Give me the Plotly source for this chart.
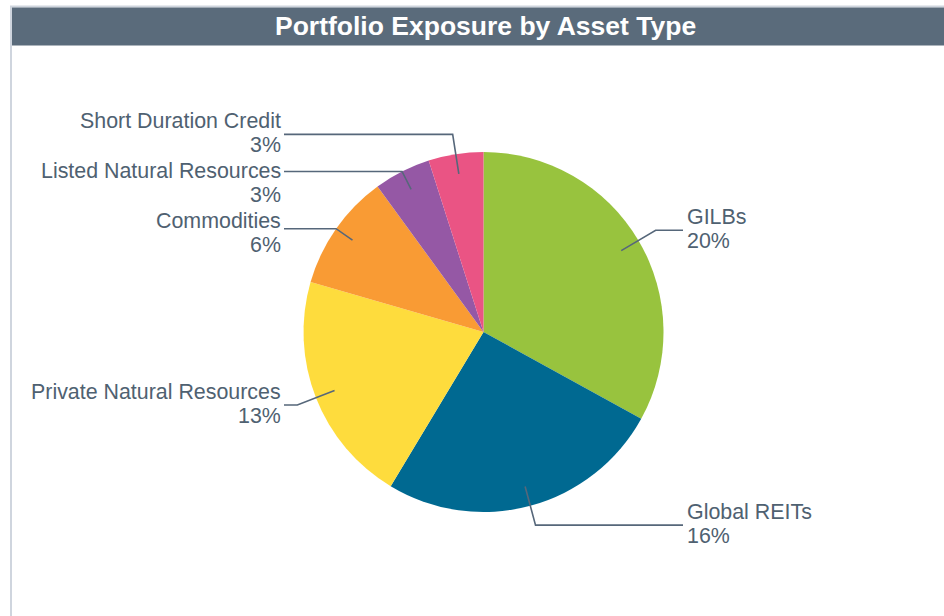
import math
import plotly.graph_objects as go

# ---- data ----
categories = ["GILBs", "Global REITs", "Private Natural Resources",
              "Commodities", "Listed Natural Resources", "Short Duration Credit"]
values = [20.1, 15.6, 12.7, 6.4, 3.1, 3.0]
colors = ["#98c33e", "#006991", "#fedc3d", "#f99b34", "#9558a5", "#ea5484"]
title_text = "Portfolio Exposure by Asset Type"

# ---- layout constants (pixels) ----
W, H = 944, 616
CX, CY, R = 483.5, 332.0, 180.0
R_IN, R_MIN_ELBOW, R_LABEL = 160.0, 180.0, 200.0
LEFT_TEXT_X, LEFT_LINE_X = 283, 284
RIGHT_TEXT_X, RIGHT_LINE_X = 685, 683
LABEL_GAP = 50
TEXT_COLOR = "#4f6171"
LINE_COLOR = "#56677a"
FONT = "Liberation Sans, Arial, sans-serif"


def px(x):
    return x / W


def py(y):
    return 1 - y / H


fig = go.Figure(go.Pie(
    labels=categories,
    values=values,
    sort=False,
    direction="clockwise",
    rotation=0,
    marker=dict(colors=colors, line=dict(width=0)),
    textinfo="none",
    hoverinfo="label+percent",
    showlegend=False,
    domain=dict(x=[px(CX - R), px(CX + R)], y=[py(CY + R), py(CY - R)]),
))

# ---- label positions derived from the slice angles ----
total = sum(values)
mids = []
cum = 0.0
for v in values:
    mids.append((cum + v / 2) / total * 2 * math.pi)
    cum += v

items = []
for name, v, th in zip(categories, values, mids):
    side = "right" if math.sin(th) >= 0 else "left"
    items.append(dict(name=name, v=v, th=th, side=side,
                      ly=CY - R_LABEL * math.cos(th)))

for side in ("left", "right"):
    group = sorted([it for it in items if it["side"] == side], key=lambda d: d["ly"])
    for i in range(1, len(group)):
        if group[i]["ly"] < group[i - 1]["ly"] + LABEL_GAP:
            group[i]["ly"] = group[i - 1]["ly"] + LABEL_GAP

shapes = []
annotations = []
for it in items:
    th, ly = it["th"], it["ly"]
    s, c = math.sin(th), math.cos(th)
    x0, y0 = CX + R_IN * s, CY - R_IN * c
    r_e = (CY - ly) / c if abs(c) > 1e-6 else R_LABEL
    r_e = min(max(r_e, R_MIN_ELBOW), R_LABEL)
    xe, ye = CX + r_e * s, CY - r_e * c
    xl = RIGHT_LINE_X if it["side"] == "right" else LEFT_LINE_X
    shapes.append(dict(
        type="path", xref="paper", yref="paper",
        path=f"M {px(x0)} {py(y0)} L {px(xe)} {py(ye)} L {px(xl)} {py(ye)}",
        line=dict(color=LINE_COLOR, width=1.6), layer="above"))
    tx = RIGHT_TEXT_X if it["side"] == "right" else LEFT_TEXT_X
    anchor = "left" if it["side"] == "right" else "right"
    yc = ly - 1
    for txt, dy in ((it["name"], -12), (f"{it['v']:.0f}%", 12)):
        annotations.append(dict(
            x=px(tx), y=py(yc + dy), xref="paper", yref="paper",
            text=txt, showarrow=False, xanchor=anchor, yanchor="middle",
            align=anchor, font=dict(family=FONT, size=21.4, color=TEXT_COLOR)))

# ---- frame and title bar ----
shapes += [
    dict(type="line", xref="paper", yref="paper", x0=px(10), x1=px(W), y0=py(6.5), y1=py(6.5),
         line=dict(color="#cfd5de", width=2), layer="below"),
    dict(type="line", xref="paper", yref="paper", x0=px(11), x1=px(11), y0=py(6), y1=py(H),
         line=dict(color="#cfd5de", width=2), layer="below"),
    dict(type="rect", xref="paper", yref="paper", x0=px(12), x1=px(W), y0=py(45.5), y1=py(7.5),
         fillcolor="#5a6b7b", line=dict(width=0), layer="below"),
]
annotations.append(dict(
    x=px(486), y=py(26), xref="paper", yref="paper", text=f"<b>{title_text}</b>",
    showarrow=False, xanchor="center", yanchor="middle",
    font=dict(family=FONT, size=26.5, color="#ffffff")))

fig.update_layout(
    width=W, height=H,
    margin=dict(l=0, r=0, t=0, b=0),
    paper_bgcolor="#ffffff", plot_bgcolor="#ffffff",
    shapes=shapes, annotations=annotations,
)

fig.write_html("out.html", config={"displayModeBar": False},
               post_script="document.body.style.margin='0';document.body.style.overflow='hidden';")
